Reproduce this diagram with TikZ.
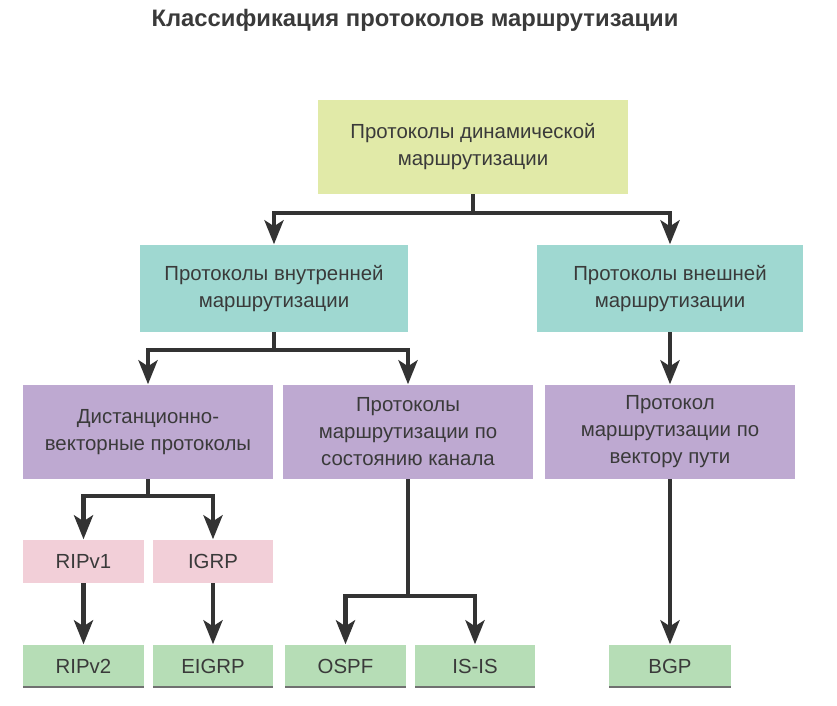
\documentclass[tikz,border=0pt]{standalone}
\usepackage{fontspec}
\setmainfont{Liberation Sans}
\usetikzlibrary{arrows.meta}
\definecolor{txt}{HTML}{3A3A3A}
\definecolor{ln}{HTML}{333333}
\definecolor{yel}{HTML}{E1EAA8}
\definecolor{teal}{HTML}{9FD8D1}
\definecolor{purp}{HTML}{BEA9D1}
\definecolor{pinkb}{HTML}{F2CFD8}
\definecolor{grn}{HTML}{B6DDB6}
\begin{document}
\begin{tikzpicture}[x=1pt,y=-1pt,
  box/.style={rectangle, draw=none, inner sep=2pt, align=center, text=txt,
    font=\fontsize{20.4}{27}\selectfont},
  yelbox/.style={box, fill=yel},
  tealbox/.style={box, fill=teal},
  purpbox/.style={box, fill=purp},
  pinkbox/.style={box, fill=pinkb},
  grnbox/.style={box, fill=grn, path picture={\draw[line width=1.6pt, ln!70] (path picture bounding box.south west) -- (path picture bounding box.south east);}},
  line/.style={draw=ln, line width=4.5pt, line join=miter},
  arr/.style={line, -{Stealth[length=24pt, width=19pt, inset=6pt]}, shorten >=0.5pt}
]
\useasboundingbox (0,0) rectangle (837,705);
\node[font=\fontsize{23.8}{28}\bfseries\selectfont, text=txt] (title) at (415,20) {Классификация протоколов маршрутизации};

\node[yelbox, minimum width=310, minimum height=94] (dyn) at (473,147) {Протоколы динамической\\маршрутизации};
\node[tealbox, minimum width=268, minimum height=87] (igp) at (274,288.5) {Протоколы внутренней\\маршрутизации};
\node[tealbox, minimum width=266, minimum height=87] (egp) at (670,288.5) {Протоколы внешней\\маршрутизации};

\node[purpbox, minimum width=250, minimum height=94] (dv) at (148,432) {Дистанционно-\\векторные протоколы};
\node[purpbox, minimum width=250, minimum height=94] (ls) at (408,432) {Протоколы\\маршрутизации по\\состоянию канала};
\node[purpbox, minimum width=250, minimum height=94] (pv) at (670,432) {Протокол\\маршрутизации по\\вектору пути};

\node[pinkbox, minimum width=121, minimum height=43] (rip1) at (83.5,561.5) {RIPv1};
\node[pinkbox, minimum width=120, minimum height=43] (igrp) at (213,561.5) {IGRP};

\node[grnbox, minimum width=121, minimum height=42] (rip2) at (83.5,666) {RIPv2};
\node[grnbox, minimum width=120, minimum height=42] (eigrp) at (213,666) {EIGRP};
\node[grnbox, minimum width=121, minimum height=42] (ospf) at (345.5,666) {OSPF};
\node[grnbox, minimum width=120, minimum height=42] (isis) at (475,666) {IS-IS};
\node[grnbox, minimum width=122, minimum height=42] (bgp) at (670,666) {BGP};

\coordinate (j1) at ([yshift=-19pt]dyn.south);
\draw[line] (dyn.south) -- (j1);
\draw[arr] (j1) -| (igp.north);
\draw[arr] (j1) -| (egp.north);

\coordinate (j2) at ([yshift=-18pt]igp.south);
\draw[line] (igp.south) -- (j2);
\draw[arr] (j2) -| (dv.north);
\draw[arr] (j2) -| (ls.north);

\draw[arr] (egp.south) -- (pv.north);

\coordinate (j3) at ([yshift=-17pt]dv.south);
\draw[line] (dv.south) -- (j3);
\draw[arr] (j3) -| (rip1.north);
\draw[arr] (j3) -| (igrp.north);

\draw[arr] (rip1.south) -- (rip2.north);
\draw[arr] (igrp.south) -- (eigrp.north);

\coordinate (j4) at ([yshift=-117pt]ls.south);
\draw[line] (ls.south) -- (j4);
\draw[arr] (j4) -| (ospf.north);
\draw[arr] (j4) -| (isis.north);

\draw[arr] (pv.south) -- (bgp.north);
\end{tikzpicture}
\end{document}
